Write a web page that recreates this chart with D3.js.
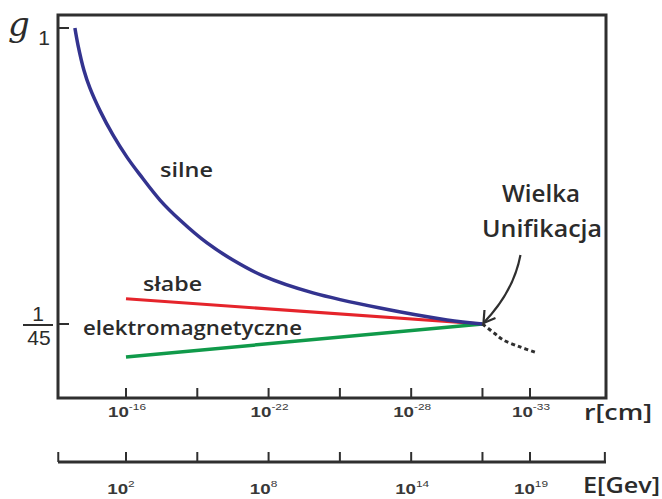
<!DOCTYPE html>
<html>
<head>
<meta charset="utf-8">
<script src="https://cdn.jsdelivr.net/npm/d3@7"></script>
<style>
  body { margin: 0; background: #fff; }
  text { fill: #2b2b2b; }
</style>
</head>
<body>
<svg id="chart" width="662" height="499"></svg>
<script>
// exponents of r (cm); E exponent = -14 - r exponent
const rTicks = [-16, -19, -22, -25, -28, -31, -33];
const rLabeled = [-16, -22, -28, -33];
const eLabeled = [2, 8, 14, 19];

// coupling (relative units, 1 at top tick, unification at 1/45 tick)
const gTicks = [1, 0.2];

const silneR = [-13.85, -13.98, -14.23, -14.48, -14.91, -15.45, -16.04, -16.59, -17.43, -18.27, -19.41, -20.5, -21.77, -23.87, -26.69, -29.51, -31];
const silneG = [1.0, 0.954, 0.886, 0.838, 0.776, 0.711, 0.651, 0.603, 0.535, 0.481, 0.419, 0.373, 0.330, 0.284, 0.243, 0.211, 0.2];
const slabeR = [-16, -31];
const slabeG = [0.268, 0.2];
const emR = [-16, -31];
const emG = [0.111, 0.2];
const extR = [-31, -31.5, -31.87, -32.58, -33.21];
const extG = [0.2, 0.175, 0.157, 0.138, 0.124];

function drawChart() {
  const svg = d3.select("#chart");
  const box = {left: 58, right: 606, top: 15, bottom: 398};
  const axisE = 462;

  const x = d3.scaleLinear().domain([-16, -33]).range([126, 530]);
  const y = d3.scaleLinear().domain([0, 1]).range([398, 28]);

  const ink = "#2f2f2f";
  const comic = "'Open Sans', 'DejaVu Sans', sans-serif";
  const plain = "'Liberation Sans', Arial, sans-serif";

  // frame
  svg.append("rect")
    .attr("x", box.left).attr("y", box.top)
    .attr("width", box.right - box.left).attr("height", box.bottom - box.top)
    .attr("fill", "none").attr("stroke", ink).attr("stroke-width", 3);

  // r axis ticks (inside frame bottom)
  svg.append("g").selectAll("line").data(rTicks).join("line")
    .attr("x1", d => x(d)).attr("x2", d => x(d))
    .attr("y1", box.bottom).attr("y2", box.bottom - 10)
    .attr("stroke", ink).attr("stroke-width", 2);

  // stretched "10^n" labels like the scanned original
  const powLabel = (sel, px, py, sup) => {
    const t = sel.append("text")
      .attr("transform", `translate(${px},${py}) scale(1.25,1)`)
      .attr("text-anchor", "middle")
      .attr("font-family", plain).attr("font-size", 15).attr("font-weight", "bold")
      .style("fill", "#383838");
    t.append("tspan").text("10");
    t.append("tspan").attr("dy", -7).attr("font-size", 9.5).attr("font-weight", "normal").text(sup);
  };

  const rLab = svg.append("g");
  rLabeled.forEach(d => powLabel(rLab, x(d) + 1, 417, "-" + Math.abs(d)));

  // E axis
  const eAxis = svg.append("g");
  eAxis.append("line")
    .attr("x1", box.left).attr("x2", box.right)
    .attr("y1", axisE).attr("y2", axisE)
    .attr("stroke", ink).attr("stroke-width", 3);
  eAxis.selectAll("line.t").data([...rTicks, -13.15, -36.15]).join("line")
    .attr("class", "t")
    .attr("x1", d => x(d)).attr("x2", d => x(d))
    .attr("y1", axisE).attr("y2", axisE - 10)
    .attr("stroke", ink).attr("stroke-width", 2);

  const eLab = svg.append("g");
  eLabeled.forEach(d => powLabel(eLab, x(-14 - d) + (d < 10 ? -5 : 1), 494, String(d)));

  // g ticks
  svg.append("g").selectAll("line").data(gTicks).join("line")
    .attr("x1", box.left).attr("x2", box.left + 11)
    .attr("y1", d => y(d)).attr("y2", d => y(d))
    .attr("stroke", ink).attr("stroke-width", 2);

  svg.append("text").attr("x", 8).attr("y", 36)
    .attr("font-family", "'DejaVu Serif', serif").attr("font-style", "italic")
    .attr("font-size", 34).text("g");
  svg.append("text").attr("x", 44).attr("y", y(1) + 17)
    .attr("text-anchor", "middle")
    .attr("font-family", plain)
    .attr("font-size", 21).text("1");
  svg.append("text").attr("x", 38).attr("y", y(0.2) - 3)
    .attr("text-anchor", "middle")
    .attr("font-family", plain)
    .attr("font-size", 21).text("1");
  svg.append("line").attr("x1", 23).attr("x2", 53)
    .attr("y1", y(0.2) + 1).attr("y2", y(0.2) + 1)
    .attr("stroke", ink).attr("stroke-width", 2);
  svg.append("text").attr("x", 39).attr("y", y(0.2) + 21)
    .attr("text-anchor", "middle")
    .attr("font-family", plain)
    .attr("font-size", 21).text("45");

  // axis titles
  svg.append("text").attr("x", 584).attr("y", 420)
    .attr("font-family", comic).attr("font-size", 22).attr("font-weight", 600)
    .attr("textLength", 68).attr("lengthAdjust", "spacingAndGlyphs").text("r[cm]");
  svg.append("text").attr("x", 583).attr("y", 493)
    .attr("font-family", comic).attr("font-size", 22).attr("font-weight", 600)
    .attr("textLength", 77).attr("lengthAdjust", "spacingAndGlyphs").text("E[Gev]");

  // curves
  const line = (rs, gs, curve) => d3.line()
    .x(i => x(rs[i])).y(i => y(gs[i]))
    .curve(curve)(d3.range(rs.length));

  svg.append("path").attr("d", line(slabeR, slabeG, d3.curveLinear))
    .attr("fill", "none").attr("stroke", "#e5242b").attr("stroke-width", 3);
  svg.append("path").attr("d", line(emR, emG, d3.curveLinear))
    .attr("fill", "none").attr("stroke", "#109a4a").attr("stroke-width", 3.5);
  svg.append("path").attr("d", line(silneR, silneG, d3.curveCatmullRom))
    .attr("fill", "none").attr("stroke", "#33338f").attr("stroke-width", 3.5);
  svg.append("path").attr("d", line(extR, extG, d3.curveCatmullRom))
    .attr("fill", "none").attr("stroke", ink).attr("stroke-width", 3)
    .attr("stroke-dasharray", "4,3");

  // labels
  const label = (t, lx, ly, w) => svg.append("text")
    .attr("x", lx).attr("y", ly)
    .attr("font-family", comic).attr("font-size", 20).attr("font-weight", 600)
    .attr("textLength", w).attr("lengthAdjust", "spacingAndGlyphs").text(t);
  label("silne", 160, 177, 53);
  label("słabe", 143, 291, 59);
  label("elektromagnetyczne", 83, 335, 219);

  // unification annotation
  const ux = x(-31), uy = y(0.2);
  svg.append("text").attr("x", 502).attr("y", 202)
    .attr("font-family", comic).attr("font-size", 24).attr("font-weight", 600)
    .attr("textLength", 78).attr("lengthAdjust", "spacingAndGlyphs").text("Wielka");
  svg.append("text").attr("x", 482).attr("y", 237)
    .attr("font-family", comic).attr("font-size", 24).attr("font-weight", 600)
    .attr("textLength", 120).attr("lengthAdjust", "spacingAndGlyphs").text("Unifikacja");

  const ax = ux + 1, ay = uy - 1;
  svg.append("path")
    .attr("d", `M${ux + 38},${uy - 69} Q${ux + 31},${uy - 32} ${ax},${ay}`)
    .attr("fill", "none").attr("stroke", ink).attr("stroke-width", 2.2);
  svg.append("path")
    .attr("d", `M${ax + 1},${ay - 13} L${ax},${ay} L${ax + 12},${ay - 5}`)
    .attr("fill", "none").attr("stroke", ink).attr("stroke-width", 2.2);
}

document.addEventListener("DOMContentLoaded", drawChart);
</script>
</body>
</html>
